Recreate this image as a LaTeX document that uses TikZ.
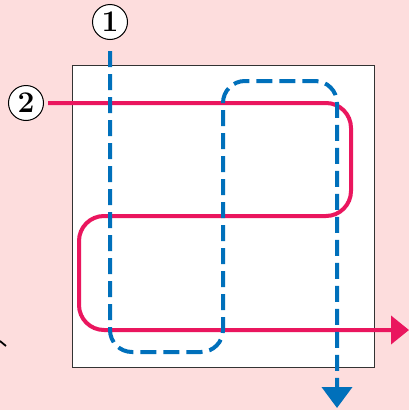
\documentclass[tikz,border=0pt]{standalone}
\usepackage{fontspec}
\usepackage{tikz}
\usetikzlibrary{arrows.meta}

\definecolor{bgpink}{RGB}{253,221,221}
\definecolor{pathred}{RGB}{234,22,94}
\definecolor{pathblue}{RGB}{0,112,187}

\tikzset{
  num/.style={circle,draw=black,line width=1pt,fill=white,minimum size=35pt,inner sep=0pt,font=\fontsize{30}{30}\selectfont\bfseries},
  redpath/.style={draw=pathred,line width=4pt,rounded corners=25pt,-{Triangle[width=28pt,length=18pt]}},
  bluepath/.style={draw=pathblue,line width=4pt,dash pattern=on 16pt off 7pt,rounded corners=22pt,-{Triangle[width=30pt,length=21pt]}}
}

\begin{document}
\begin{tikzpicture}[x=1pt,y=-1pt]

\useasboundingbox[fill=bgpink] (0,0) rectangle (409,410);

\draw[fill=white,draw=black!80,line width=1pt] (72,65) rectangle (374,367);

\node[num] (c1) at (110,22) {1};

\node[num] (c2) at (26,103) {2};

\coordinate (redend) at (409,330);
\coordinate (blueend) at (337,408);

\draw[redpath,shorten <=4pt] (c2.east) -- (351,103) -- (351,216) -- (79,216) -- (79,330) -- (redend);
\draw[bluepath,shorten <=11pt] (c1.south) -- (110,352) -- (223,352) -- (223,81) -- (337,81) -- (blueend);

\draw[line width=1.8pt] (0,341) -- (6,346);

\end{tikzpicture}
\end{document}
